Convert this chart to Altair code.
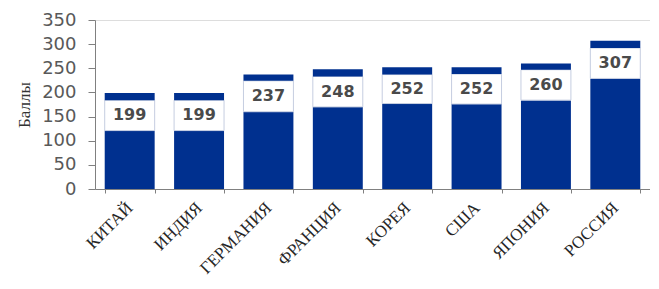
import altair as alt
import pandas as pd

countries = ["КИТАЙ", "ИНДИЯ", "ГЕРМАНИЯ", "ФРАНЦИЯ", "КОРЕЯ", "США", "ЯПОНИЯ", "РОССИЯ"]
totals = [199, 199, 237, 248, 252, 252, 260, 307]
base = [121, 121, 160, 170, 177, 176, 184, 229]
cap = [15, 15, 13, 15, 15, 14, 13, 15]
y_ticks = [0, 50, 100, 150, 200, 250, 300, 350]

df = pd.DataFrame({
    "country": countries,
    "total": totals,
    "base": base,
    "cap_bottom": [t - c for t, c in zip(totals, cap)],
})
df["label_y"] = (df["base"] + df["cap_bottom"]) / 2
df["zero"] = 0

BLUE = "#00308f"

x = alt.X("country:N", sort=countries, title=None,
          scale=alt.Scale(paddingInner=0.28, paddingOuter=0.14),
          axis=alt.Axis(labelAngle=-45, labelAlign="right", labelBaseline="middle",
                        labelFont="Liberation Serif", labelFontSize=17, labelColor="#262626",
                        labelPadding=12, tickBand="extent", tickSize=4, tickColor="#808080",
                        domainColor="#808080", labelOverlap=False))
yscale = alt.Scale(domain=[0, 350], nice=False)
yaxis = alt.Axis(values=y_ticks, grid=False, labelOverlap=False, labelFlush=False,
                 labelFont="DejaVu Sans", labelFontSize=18, labelColor="#595959",
                 tickSize=7, tickColor="#808080", domainColor="#808080",
                 labelPadding=12, titleFont="Liberation Serif", titleFontSize=17,
                 titleFontWeight="normal", titleColor="#333333", titlePadding=8)


def Y(field):
    return alt.Y(field, scale=yscale, axis=yaxis, title="Баллы")


bottom = alt.Chart(df).mark_bar(color=BLUE).encode(
    x=x, y=Y("zero:Q"), y2="base:Q",
)
middle = alt.Chart(df).mark_bar(color="white", stroke="#c5cde0", strokeWidth=1).encode(
    x=x, y=Y("base:Q"), y2="cap_bottom:Q",
)
top = alt.Chart(df).mark_bar(color=BLUE).encode(
    x=x, y=Y("cap_bottom:Q"), y2="total:Q",
)
labels = alt.Chart(df).mark_text(font="DejaVu Sans", fontSize=16, fontWeight="bold",
                                 color="#4a4a4a", baseline="middle").encode(
    x=x, y=Y("label_y:Q"), text="total:Q",
)

chart = alt.layer(bottom, middle, top, labels).properties(
    width=555, height=169,
    autosize=alt.AutoSizeParams(type="none"),
    padding={"left": 87, "top": 12, "right": 0, "bottom": 91},
).configure_view(stroke=None).configure(background="white")

chart.save("out.html", embed_options={"renderer": "svg", "actions": False})
